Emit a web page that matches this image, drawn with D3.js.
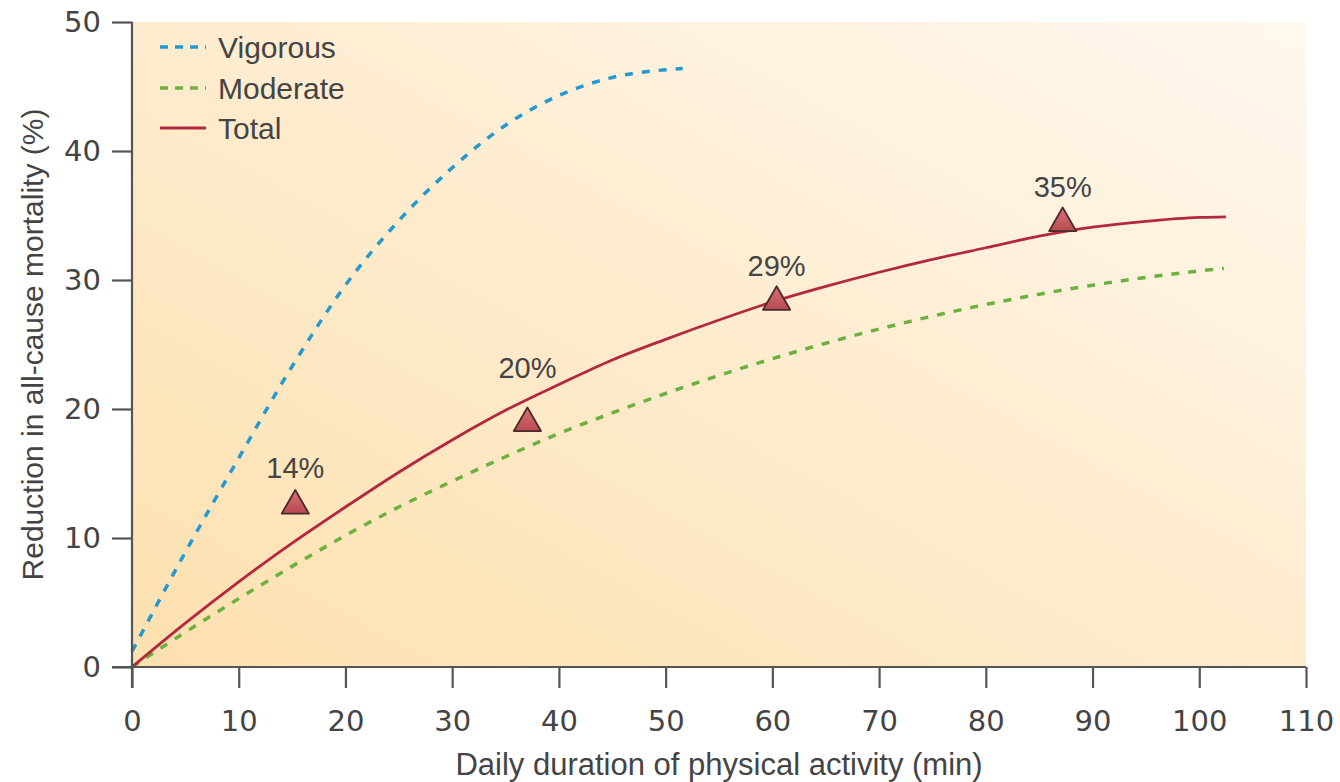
<!DOCTYPE html>
<html><head><meta charset="utf-8">
<script src="https://cdn.jsdelivr.net/npm/d3@7"></script>
<style>body{margin:0;background:#fff;} text{font-family:"Liberation Sans",Arial,sans-serif;fill:#444;}</style>
</head><body><svg id="c" width="1340" height="782"></svg>
<script>
const xTicks=[0,10,20,30,40,50,60,70,80,90,100,110];
const yTicks=[0,10,20,30,40,50];
const vigorous=[[0,1.2],[5,8.9],[10,16.2],[15,23.3],[20,29.6],[25,34.6],[30,38.7],[35,42.0],[40,44.3],[45,45.7],[50,46.3],[51.6,46.4]];
const moderate=[[0,0],[5,2.7],[10,5.3],[15,7.8],[20,10.2],[25,12.4],[30,14.4],[35,16.3],[40,18.1],[45,19.7],[50,21.2],[55,22.6],[60,23.9],[65,25.1],[70,26.2],[75,27.2],[80,28.1],[85,28.9],[90,29.6],[95,30.2],[100,30.7],[102.3,30.9]];
const total=[[0,0],[5,3.4],[10,6.6],[15,9.6],[20,12.4],[25,15.1],[30,17.6],[35,19.9],[40,21.9],[45,23.8],[50,25.4],[55,26.9],[60,28.3],[65,29.5],[70,30.6],[75,31.6],[80,32.5],[85,33.4],[90,34.1],[95,34.55],[100,34.85],[102.5,34.9]];
const markers=[[15.3,12.5],[37.05,18.9],[60.4,28.3],[87.2,34.4]];
const markerLabels=["14%","20%","29%","35%"];
const seriesNames=["Vigorous","Moderate","Total"];
const seriesColors=["#2399cf","#6cb040","#b3283f"];

const svg=d3.select("#c");
const m={l:132,r:1306,t:22,b:667};
const x=d3.scaleLinear().domain([0,110]).range([m.l,m.r]);
const y=d3.scaleLinear().domain([0,50]).range([m.b,m.t]);

const defs=svg.append("defs");
const g=defs.append("linearGradient").attr("id","bg").attr("x1","0").attr("y1","1").attr("x2","1").attr("y2","0");
g.append("stop").attr("offset","0").attr("stop-color","#fde0ae");
g.append("stop").attr("offset","1").attr("stop-color","#fff8ef");
const tg=defs.append("linearGradient").attr("id","tri").attr("x1","0").attr("y1","0").attr("x2","0").attr("y2","1");
tg.append("stop").attr("offset","0").attr("stop-color","#d9737a");
tg.append("stop").attr("offset","1").attr("stop-color","#b8484f");

svg.append("rect").attr("x",x(0)).attr("y",y(50)).attr("width",x(110)-x(0)).attr("height",y(0)-y(50)).attr("fill","url(#bg)");

const line=d3.line().x(d=>x(d[0])).y(d=>y(d[1])).curve(d3.curveMonotoneX);
svg.append("path").datum(moderate).attr("d",line).attr("fill","none").attr("stroke",seriesColors[1]).attr("stroke-width",3.5).attr("stroke-dasharray","8,9");
svg.append("path").datum(vigorous).attr("d",line).attr("fill","none").attr("stroke",seriesColors[0]).attr("stroke-width",3.5).attr("stroke-dasharray","8,9");
svg.append("path").datum(total).attr("d",line).attr("fill","none").attr("stroke",seriesColors[2]).attr("stroke-width",2.8);

// axes
const xa=svg.append("g").attr("transform",`translate(0,${m.b})`).call(d3.axisBottom(x).tickValues(xTicks).tickSize(21).tickPadding(22));
const ya=svg.append("g").attr("transform",`translate(${m.l},0)`).call(d3.axisLeft(y).tickValues(yTicks).tickSize(20).tickPadding(11));
[xa,ya].forEach(a=>{a.select(".domain").remove();a.selectAll("line").attr("stroke","#555").attr("stroke-width",2.2);a.selectAll("text").attr("fill","#4a4a4a").style("font-family","'DejaVu Sans',sans-serif").attr("font-size",29);});
svg.append("line").attr("x1",x(0)-20).attr("x2",x(110)).attr("y1",y(0)).attr("y2",y(0)).attr("stroke","#555").attr("stroke-width",2.2);
svg.append("line").attr("x1",x(0)).attr("x2",x(0)).attr("y1",y(50)).attr("y2",y(0)+21).attr("stroke","#555").attr("stroke-width",2.2);

// markers
const labelDy=[28,45,26,26];
const sym=d3.symbol().type(d3.symbolTriangle).size(320);
svg.selectAll(".mk").data(markers).enter().append("path").attr("d",sym).attr("transform",d=>`translate(${x(d[0])},${y(d[1])})`).attr("fill","url(#tri)").attr("stroke","#4a2b2b").attr("stroke-width",1.8).attr("stroke-linejoin","round");
svg.selectAll(".ml").data(markers).enter().append("text").attr("x",d=>x(d[0])).attr("y",(d,i)=>y(d[1])-labelDy[i]).attr("text-anchor","middle").attr("font-size",29).text((d,i)=>markerLabels[i]);

// legend
seriesNames.forEach((n,i)=>{
  const ly=[47,88,128][i];
  svg.append("line").attr("x1",160).attr("x2",206).attr("y1",ly).attr("y2",ly).attr("stroke",seriesColors[i]).attr("stroke-width",i<2?3.5:2.8).attr("stroke-dasharray",i<2?"8,7":null);
  svg.append("text").attr("x",218).attr("y",ly+11).attr("font-size",30).text(n);
});

// titles
svg.append("text").attr("x",(x(0)+x(110))/2).attr("y",775).attr("text-anchor","middle").attr("font-size",31).text("Daily duration of physical activity (min)");
svg.append("text").attr("transform",`translate(43,${y(25)}) rotate(-90)`).attr("text-anchor","middle").attr("font-size",30).text("Reduction in all-cause mortality (%)");
</script></body></html>
